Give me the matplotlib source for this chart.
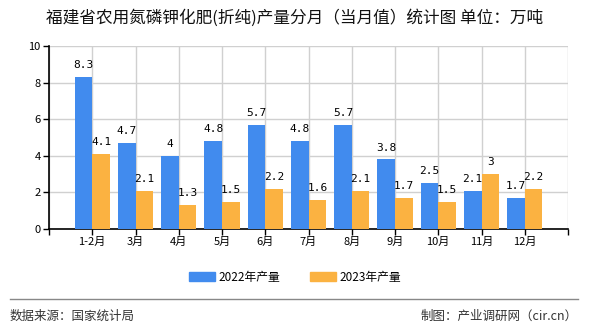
import matplotlib
matplotlib.use('Agg')
import matplotlib.pyplot as plt
from matplotlib.patches import Patch
from matplotlib.lines import Line2D
import numpy as np

plt.rcParams['font.family'] = ['Noto Sans CJK SC', 'DejaVu Sans']

months = ['1-2月', '3月', '4月', '5月', '6月', '7月', '8月', '9月', '10月', '11月', '12月']
prod_2022 = [8.3, 4.7, 4, 4.8, 5.7, 4.8, 5.7, 3.8, 2.5, 2.1, 1.7]
prod_2023 = [4.1, 2.1, 1.3, 1.5, 2.2, 1.6, 2.1, 1.7, 1.5, 3, 2.2]
labels_2022 = ['8.3', '4.7', '4', '4.8', '5.7', '4.8', '5.7', '3.8', '2.5', '2.1', '1.7']
labels_2023 = ['4.1', '2.1', '1.3', '1.5', '2.2', '1.6', '2.1', '1.7', '1.5', '3', '2.2']

c_blue = '#418bee'
c_orange = '#fbb241'

fig = plt.figure(figsize=(5.9, 3.3), dpi=100)
ax = fig.add_axes([49/590, 1-229/330, 519/590, 183/330])

x = np.arange(1, len(months) + 1)
w = 0.41
ax.bar(x - w/2, prod_2022, w, color=c_blue, zorder=3)
ax.bar(x + w/2, prod_2023, w, color=c_orange, zorder=3)

for xi, v, t in zip(x, prod_2022, labels_2022):
    ax.annotate(t, (xi - w/2, v), xytext=(0, 5), textcoords='offset points',
                ha='center', va='bottom', fontsize=8, family='DejaVu Sans Mono', zorder=4)
for xi, v, t in zip(x, prod_2023, labels_2023):
    ax.annotate(t, (xi + w/2, v), xytext=(0, 5), textcoords='offset points',
                ha='center', va='bottom', fontsize=8, family='DejaVu Sans Mono', zorder=4)

ax.set_xlim(0, len(months) + 1)
ax.set_ylim(0, 10)
ax.set_yticks([0, 2, 4, 6, 8, 10])
ax.set_xticks(np.arange(0, len(months) + 2))
ax.set_xticklabels([''] + months + [''])
ax.tick_params(axis='both', labelsize=8, length=4, width=1, color='black', pad=2)
ax.grid(True, color='#d0d0d0', linewidth=1, zorder=0)

for s in ['top', 'right']:
    ax.spines[s].set_visible(False)
ax.spines['left'].set_linewidth(1.2)
ax.spines['bottom'].set_linewidth(1.2)

fig.text(0.5, 1-18/330, '福建省农用氮磷钾化肥(折纯)产量分月（当月值）统计图 单位：万吨',
         ha='center', va='center', fontsize=12, fontweight='medium', color='#111111')

handles = [Patch(color=c_blue, label='2022年产量'), Patch(color=c_orange, label='2023年产量')]
fig.legend(handles=handles, loc='center', bbox_to_anchor=(0.5, 1-277/330), ncol=2,
           frameon=False, fontsize=8.5, handlelength=2.2, handleheight=0.8,
           columnspacing=2.5, handletextpad=0.3)

fig.add_artist(Line2D([10/590, 578/590], [1-299/330, 1-299/330], color='#888888', linewidth=1))
fig.text(10/590, 1-316/330, '数据来源：国家统计局', ha='left', va='center', fontsize=9, color='#333333')
fig.text(578/590, 1-316/330, '制图：产业调研网（cir.cn）', ha='right', va='center', fontsize=9, color='#333333')

fig.savefig('out.png', dpi=100)
